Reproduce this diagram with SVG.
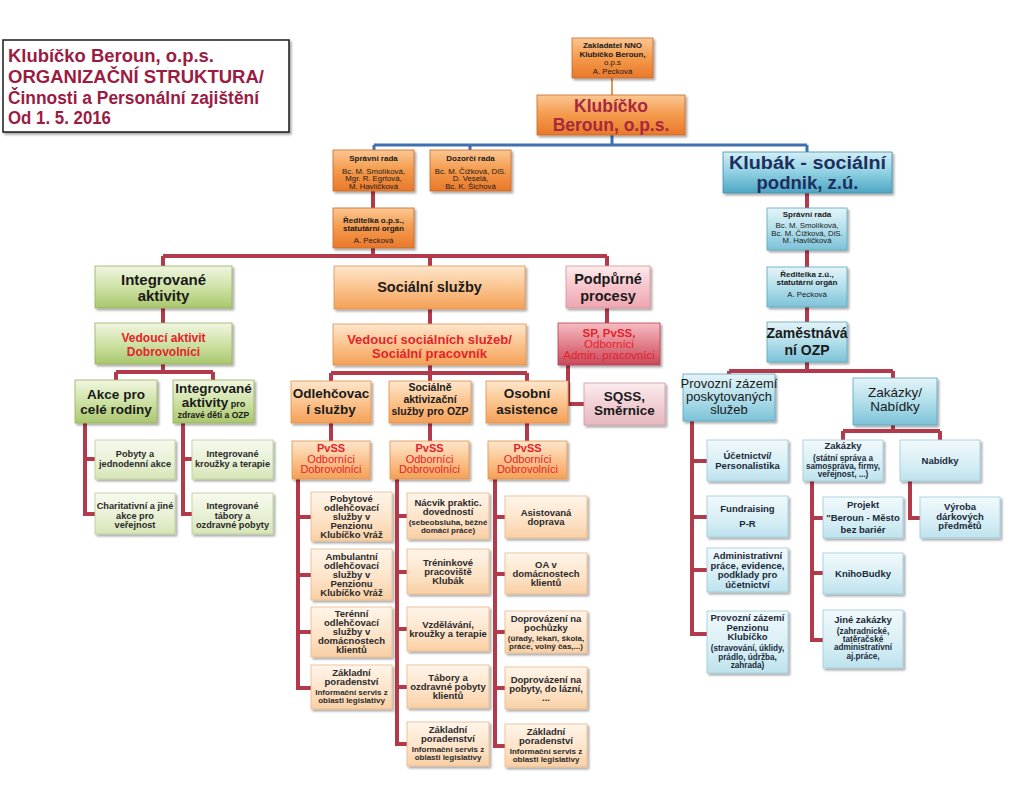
<svg xmlns="http://www.w3.org/2000/svg" width="1024" height="807" viewBox="0 0 1024 807">
<defs>
<filter id="sh" x="-10%" y="-10%" width="130%" height="140%"><feDropShadow dx="1.8" dy="2" stdDeviation="1.2" flood-color="#000" flood-opacity="0.35"/></filter>
<linearGradient id="gO1" x1="0" y1="0" x2="0" y2="1"><stop offset="0" stop-color="#fbc793"/><stop offset="0.5" stop-color="#f49a4c"/><stop offset="1" stop-color="#e9782a"/></linearGradient>
<linearGradient id="gO2" x1="0" y1="0" x2="0" y2="1"><stop offset="0" stop-color="#fee6cc"/><stop offset="0.5" stop-color="#fbc48f"/><stop offset="1" stop-color="#f4a056"/></linearGradient>
<linearGradient id="gO3" x1="0" y1="0" x2="0" y2="1"><stop offset="0" stop-color="#fff5ea"/><stop offset="0.6" stop-color="#fde2c6"/><stop offset="1" stop-color="#f9cfa4"/></linearGradient>
<linearGradient id="gG1" x1="0" y1="0" x2="0" y2="1"><stop offset="0" stop-color="#f0f6e2"/><stop offset="0.5" stop-color="#cfe2a6"/><stop offset="1" stop-color="#a9c76d"/></linearGradient>
<linearGradient id="gG2" x1="0" y1="0" x2="0" y2="1"><stop offset="0" stop-color="#f7faee"/><stop offset="0.6" stop-color="#e6efd2"/><stop offset="1" stop-color="#d6e5b6"/></linearGradient>
<linearGradient id="gP1" x1="0" y1="0" x2="0" y2="1"><stop offset="0" stop-color="#fdebed"/><stop offset="0.5" stop-color="#f6c4cb"/><stop offset="1" stop-color="#eea6b1"/></linearGradient>
<linearGradient id="gR" x1="0" y1="0" x2="0" y2="1"><stop offset="0" stop-color="#f6bcc2"/><stop offset="0.55" stop-color="#e07a86"/><stop offset="1" stop-color="#c8485a"/></linearGradient>
<linearGradient id="gP2" x1="0" y1="0" x2="0" y2="1"><stop offset="0" stop-color="#fbecee"/><stop offset="0.5" stop-color="#f1d0d5"/><stop offset="1" stop-color="#e5b8bf"/></linearGradient>
<linearGradient id="gB0" x1="0" y1="0" x2="0" y2="1"><stop offset="0" stop-color="#d2eef5"/><stop offset="0.5" stop-color="#8fd0e2"/><stop offset="1" stop-color="#4ea6c4"/></linearGradient>
<linearGradient id="gB1" x1="0" y1="0" x2="0" y2="1"><stop offset="0" stop-color="#e4f4f8"/><stop offset="0.5" stop-color="#b3dfeb"/><stop offset="1" stop-color="#7cc2d8"/></linearGradient>
<linearGradient id="gB2" x1="0" y1="0" x2="0" y2="1"><stop offset="0" stop-color="#f1f9fb"/><stop offset="0.6" stop-color="#d6eef5"/><stop offset="1" stop-color="#bde2ed"/></linearGradient>
<style>
text{font-family:"Liberation Sans",Arial,sans-serif;text-anchor:middle;fill:#1a1a1a}
.b{font-weight:bold}
.title{font-size:18px;font-weight:bold;fill:#9b1c42;text-anchor:start}
.red{fill:#e4232b}
.o1{fill:url(#gO1);stroke:#c96a2a;stroke-width:0.8;filter:url(#sh)}
.o2{fill:url(#gO2);stroke:#e0924f;stroke-width:0.8;filter:url(#sh)}
.o3{fill:url(#gO3);stroke:#e8b88a;stroke-width:0.8;filter:url(#sh)}
.g1{fill:url(#gG1);stroke:#98b060;stroke-width:0.8;filter:url(#sh)}
.g2{fill:url(#gG2);stroke:#b9cc94;stroke-width:0.8;filter:url(#sh)}
.p1{fill:url(#gP1);stroke:#d88f9a;stroke-width:0.8;filter:url(#sh)}
.r1{fill:url(#gR);stroke:#b84050;stroke-width:0.8;filter:url(#sh)}
.p2{fill:url(#gP2);stroke:#cf9ba4;stroke-width:0.8;filter:url(#sh)}
.b0{fill:url(#gB0);stroke:#3f8fab;stroke-width:0.8;filter:url(#sh)}
.b1{fill:url(#gB1);stroke:#5aa5bf;stroke-width:0.8;filter:url(#sh)}
.b2{fill:url(#gB2);stroke:#9ccad9;stroke-width:0.8;filter:url(#sh)}
.s8{font-size:7.8px}
.h8{font-size:8px;font-weight:bold}
.lf{font-size:9.5px;font-weight:bold;fill:#2b2b2b}
.sub{font-size:8px;font-weight:bold;fill:#2b2b2b}
.gl{font-size:9.2px;font-weight:bold;fill:#2b2b2b}
.bl{font-size:9.5px;font-weight:bold;fill:#1b2a3a}
.bs{font-size:8.2px;font-weight:bold;fill:#1b2a3a}
.c{stroke:#b23a4a;stroke-width:4;fill:none}
.cb{stroke:#3e70b2;stroke-width:3;fill:none}
.co{stroke:#e8954f;stroke-width:2;fill:none}
</style>
</defs>
<rect width="1024" height="807" fill="#ffffff"/>

<g id="title">
<rect x="3" y="40" width="286" height="92" fill="#fff" stroke="#1a1a1a" stroke-width="1.5" filter="url(#sh)"/>
<text class="title" x="8" y="62" textLength="206" lengthAdjust="spacingAndGlyphs">Klubíčko Beroun, o.p.s.</text>
<text class="title" x="8" y="83" textLength="256" lengthAdjust="spacingAndGlyphs">ORGANIZAČNÍ STRUKTURA/</text>
<text class="title" x="8" y="104" textLength="251" lengthAdjust="spacingAndGlyphs">Činnosti a Personální zajištění</text>
<text class="title" x="8" y="124" textLength="103" lengthAdjust="spacingAndGlyphs">Od 1. 5. 2016</text>
</g>

<g id="connectors">
<path class="co" d="M612,78V95"/>
<path class="cb" d="M612,135V145M374,145H807M374,145V151M470,145V151M807,145V153"/>
<path class="c" d="M373,190V208M373,248V256M163,256H607M163,256V266M430,256V266M607,256V266"/>
<path class="c" d="M163,308V323M163,364V372M116,372H213M116,372V380M213,372V380"/>
<path class="c" d="M85,423V514H95M85,459H95M183,423V514H192M183,459H192"/>
<path class="c" d="M430,309V324M430,365V373M331,373H527M331,373V381M430,373V381M527,373V381"/>
<path class="c" d="M331,423V441M430,423V441M527,423V441"/>
<path class="c" d="M298,479V688H311M298,517H311M298,575H311M298,632H311"/>
<path class="c" d="M397,479V744H407M397,516H407M397,572H407M397,629H407M397,687H407"/>
<path class="c" d="M495,479V746H505M495,517H505M495,574H505M495,632H505M495,688H505"/>
<path class="c" d="M607,308V323M568,365V404H584"/>
<path class="c" d="M807,193V208M807,250V267M807,307V322M807,362V371M729,371H893M729,371V375M893,371V378"/>
<path class="c" d="M692,421V634H707M692,461H707M692,517H707M692,570H707"/>
<path class="c" d="M893,425V431M843,431H940M843,431V440M940,431V440"/>
<path class="c" d="M812,481V640H823M812,518H823M812,573H823M910,481V518H920"/>
</g>

<g id="zakladatel"><rect class="o1" x="572" y="38" width="81" height="40"/>
<text class="h8" x="612.5" y="48">Zakladatel NNO</text><text class="h8" x="612.5" y="57">Klubíčko Beroun,</text><text class="s8" x="612.5" y="64.5">o.p.s</text><text class="s8" x="612.5" y="73.5">A. Pecková</text></g>

<g id="klubicko"><rect class="o1" x="537" y="95" width="148" height="40"/>
<text class="b" x="611" y="111.5" style="font-size:17.5px;fill:#a8293d">Klubíčko</text><text class="b" x="611" y="131.2" style="font-size:17.5px;fill:#a8293d">Beroun, o.p.s.</text></g>

<g id="spravni-rada"><rect class="o1" x="333" y="150" width="81" height="41"/>
<text class="h8" x="373.5" y="161">Správní rada</text><text class="s8" x="373.5" y="174">Bc. M. Smolíková,</text><text class="s8" x="373.5" y="181">Mgr. R. Egrtová,</text><text class="s8" x="373.5" y="188.5">M. Havlíčková</text></g>

<g id="dozorci-rada"><rect class="o1" x="430" y="150" width="81" height="41"/>
<text class="h8" x="470.5" y="161">Dozorčí rada</text><text class="s8" x="470.5" y="174">Bc. M. Čížková, DiS.</text><text class="s8" x="470.5" y="181">D. Veselá,</text><text class="s8" x="470.5" y="188.5">Bc. K. Šichová</text></g>

<g id="reditelka"><rect class="o1" x="333" y="208" width="81" height="40"/>
<text class="h8" x="373.5" y="223">Ředitelka o.p.s.,</text><text class="h8" x="373.5" y="231">statutární orgán</text><text class="s8" x="373.5" y="243">A. Pecková</text></g>

<g id="klubak"><rect class="b0" x="723" y="152" width="169" height="41"/>
<text class="b" x="807.5" y="168.5" textLength="157" lengthAdjust="spacingAndGlyphs" style="font-size:18px;fill:#1d2f5e">Klubák - sociální</text><text class="b" x="807.5" y="189" textLength="102" lengthAdjust="spacingAndGlyphs" style="font-size:18px;fill:#1d2f5e">podnik, z.ú.</text></g>

<g id="spravni-rada-zu"><rect class="b1" x="767" y="208" width="80" height="42"/>
<text class="h8" x="807" y="217">Správní rada</text><text class="s8" x="807" y="228">Bc. M. Smolíková,</text><text class="s8" x="807" y="235.5">Bc. M. Čížková, DiS.</text><text class="s8" x="807" y="243">M. Havlíčková</text></g>

<g id="reditelka-zu"><rect class="b1" x="767" y="267" width="80" height="40"/>
<text class="h8" x="807" y="277">Ředitelka z.ú.,</text><text class="h8" x="807" y="285">statutární orgán</text><text class="s8" x="807" y="297">A. Pecková</text></g>

<g id="zamestnava"><rect class="b1" x="767" y="322" width="80" height="40"/>
<text class="b" x="807" y="338" style="font-size:14px">Zaměstnává</text><text class="b" x="807" y="355" style="font-size:14px">ní OZP</text></g>

<g id="integrovane-aktivity"><rect class="g1" x="95" y="266" width="137" height="42"/>
<text class="b" x="163.5" y="285" style="font-size:15px">Integrované</text><text class="b" x="163.5" y="301" style="font-size:15px">aktivity</text></g>

<g id="socialni-sluzby"><rect class="o2" x="334" y="266" width="191" height="43"/>
<text class="b" x="429.5" y="292" style="font-size:14.5px">Sociální služby</text></g>

<g id="podpurne-procesy"><rect class="p1" x="566" y="266" width="84" height="42"/>
<text class="b" x="608" y="284" style="font-size:14.5px">Podpůrné</text><text class="b" x="608" y="301" style="font-size:14.5px">procesy</text></g>

<g id="vedouci-aktivit"><rect class="g1" x="95" y="323" width="137" height="41"/>
<text class="b red" x="163.5" y="342" style="font-size:12px">Vedoucí aktivit</text><text class="b red" x="163.5" y="356" style="font-size:12px">Dobrovolníci</text></g>

<g id="vedouci-soc"><rect class="o2" x="333" y="324" width="193" height="41"/>
<text class="b red" x="429.5" y="343.5" style="font-size:13px">Vedoucí sociálních služeb/</text><text class="b red" x="429.5" y="357.5" style="font-size:13px">Sociální pracovník</text></g>

<g id="sp-pvss"><rect class="r1" x="558" y="323" width="102" height="42"/>
<text class="b red" x="609" y="337" style="font-size:11.5px">SP, PvSS,</text><text class="red" x="609" y="348" style="font-size:11.5px">Odborníci</text><text class="red" x="609" y="359" style="font-size:11.5px">Admin. pracovníci</text></g>

<g id="sqss"><rect class="p2" x="584" y="383" width="81" height="42"/>
<text class="b" x="624.5" y="401" style="font-size:13.5px">SQSS,</text><text class="b" x="624.5" y="415" style="font-size:13.5px">Směrnice</text></g>

<g id="akce-rodiny"><rect class="g1" x="75" y="380" width="82" height="43"/>
<text class="b" x="116" y="399" style="font-size:13.5px">Akce pro</text><text class="b" x="116" y="414" style="font-size:13.5px">celé rodiny</text></g>

<g id="integrovane-aktivity-pro"><rect class="g1" x="173" y="380" width="81" height="43"/>
<text class="b" x="213.5" y="393" style="font-size:13.5px">Integrované</text><text class="b" x="213.5" y="407" style="font-size:13.5px">aktivity<tspan style="font-size:9px"> pro</tspan></text><text class="b" x="213.5" y="418" style="font-size:8.5px">zdravé děti a OZP</text></g>

<g id="pobyty-akce"><rect class="g2" x="95" y="440" width="80" height="39"/>
<text class="gl" x="135" y="457">Pobyty a</text><text class="gl" x="135" y="466.5">jednodenní akce</text></g>
<g id="charitativni"><rect class="g2" x="95" y="493" width="80" height="41"/>
<text class="gl" x="135" y="509">Charitativní a jiné</text><text class="gl" x="135" y="518.5">akce pro</text><text class="gl" x="135" y="528">veřejnost</text></g>
<g id="int-krouzky"><rect class="g2" x="192" y="440" width="81" height="39"/>
<text class="gl" x="232.5" y="457">Integrované</text><text class="gl" x="232.5" y="466.5">kroužky a terapie</text></g>
<g id="int-tabory"><rect class="g2" x="192" y="493" width="81" height="41"/>
<text class="gl" x="232.5" y="509">Integrované</text><text class="gl" x="232.5" y="518.5">tábory a</text><text class="gl" x="232.5" y="528">ozdravné pobyty</text></g>

<g id="odlehcovaci"><rect class="o2" x="291" y="381" width="80" height="42"/>
<text class="b" x="331" y="398" style="font-size:13.5px">Odlehčovac</text><text class="b" x="331" y="414" style="font-size:13.5px">í služby</text></g>
<g id="socialne-aktivizacni"><rect class="o2" x="389" y="381" width="82" height="42"/>
<text class="b" x="430" y="391" style="font-size:10.5px">Sociálně</text><text class="b" x="430" y="403" style="font-size:10.5px">aktivizační</text><text class="b" x="430" y="415" style="font-size:10.5px">služby pro OZP</text></g>
<g id="osobni-asistence"><rect class="o2" x="486" y="381" width="82" height="42"/>
<text class="b" x="527" y="398" style="font-size:13.5px">Osobní</text><text class="b" x="527" y="414" style="font-size:13.5px">asistence</text></g>

<g id="pvss-1"><rect class="o2" x="292" y="441" width="78" height="38"/>
<text class="b red" x="331" y="452" style="font-size:11px">PvSS</text><text class="red" x="331" y="462.5" style="font-size:11px">Odborníci</text><text class="red" x="331" y="473" style="font-size:11px">Dobrovolníci</text></g>
<g id="pvss-2"><rect class="o2" x="390" y="441" width="79" height="38"/>
<text class="b red" x="429.5" y="452" style="font-size:11px">PvSS</text><text class="red" x="429.5" y="462.5" style="font-size:11px">Odborníci</text><text class="red" x="429.5" y="473" style="font-size:11px">Dobrovolníci</text></g>
<g id="pvss-3"><rect class="o2" x="488" y="441" width="79" height="38"/>
<text class="b red" x="527.5" y="452" style="font-size:11px">PvSS</text><text class="red" x="527.5" y="462.5" style="font-size:11px">Odborníci</text><text class="red" x="527.5" y="473" style="font-size:11px">Dobrovolníci</text></g>

<g id="pobytove-odl"><rect class="o3" x="311" y="492" width="81" height="49"/>
<text class="lf" x="351.5" y="502">Pobytové</text><text class="lf" x="351.5" y="511">odlehčovací</text><text class="lf" x="351.5" y="520">služby v</text><text class="lf" x="351.5" y="529">Penzionu</text><text class="lf" x="351.5" y="538">Klubíčko Vráž</text></g>
<g id="ambulantni-odl"><rect class="o3" x="311" y="549" width="81" height="51"/>
<text class="lf" x="351.5" y="560">Ambulantní</text><text class="lf" x="351.5" y="569">odlehčovací</text><text class="lf" x="351.5" y="578">služby v</text><text class="lf" x="351.5" y="587">Penzionu</text><text class="lf" x="351.5" y="596">Klubíčko Vráž</text></g>
<g id="terenni-odl"><rect class="o3" x="311" y="607" width="81" height="50"/>
<text class="lf" x="351.5" y="617">Terénní</text><text class="lf" x="351.5" y="626">odlehčovací</text><text class="lf" x="351.5" y="635">služby v</text><text class="lf" x="351.5" y="644">domácnostech</text><text class="lf" x="351.5" y="653">klientů</text></g>
<g id="zakladni-por-1"><rect class="o3" x="311" y="665" width="81" height="44"/>
<text class="lf" x="351.5" y="676">Základní</text><text class="lf" x="351.5" y="685">poradenství</text><text class="sub" x="351.5" y="695">Informační servis z</text><text class="sub" x="351.5" y="703">oblasti legislativy</text></g>

<g id="nacvik"><rect class="o3" x="407" y="493" width="82" height="46"/>
<text class="lf" x="448" y="506">Nácvik praktic.</text><text class="lf" x="448" y="515">dovedností</text><text class="sub" x="448" y="524.5">(sebeobsluha, běžné</text><text class="sub" x="448" y="532.5">domácí práce)</text></g>
<g id="treninkove"><rect class="o3" x="407" y="549" width="82" height="45"/>
<text class="lf" x="448" y="566">Tréninkové</text><text class="lf" x="448" y="575">pracoviště</text><text class="lf" x="448" y="584">Klubák</text></g>
<g id="vzdelavani"><rect class="o3" x="407" y="607" width="82" height="44"/>
<text class="lf" x="448" y="628">Vzdělávání,</text><text class="lf" x="448" y="637">kroužky a terapie</text></g>
<g id="tabory"><rect class="o3" x="407" y="665" width="82" height="43"/>
<text class="lf" x="448" y="681">Tábory a</text><text class="lf" x="448" y="690">ozdravné pobyty</text><text class="lf" x="448" y="699">klientů</text></g>
<g id="zakladni-por-2"><rect class="o3" x="407" y="722" width="82" height="44"/>
<text class="lf" x="448" y="733">Základní</text><text class="lf" x="448" y="742">poradenství</text><text class="sub" x="448" y="752">Informační servis z</text><text class="sub" x="448" y="760">oblasti legislativy</text></g>

<g id="asistovana"><rect class="o3" x="505" y="496" width="82" height="42"/>
<text class="lf" x="546" y="516">Asistovaná</text><text class="lf" x="546" y="525">doprava</text></g>
<g id="oa"><rect class="o3" x="505" y="553" width="82" height="41"/>
<text class="lf" x="546" y="568">OA v</text><text class="lf" x="546" y="577">domácnostech</text><text class="lf" x="546" y="586">klientů</text></g>
<g id="doprovazeni-pochuzky"><rect class="o3" x="505" y="611" width="82" height="42"/>
<text class="lf" x="546" y="622">Doprovázení na</text><text class="lf" x="546" y="631">pochůzky</text><text class="sub" x="546" y="640.5">(úřady, lékaři, škola,</text><text class="sub" x="546" y="648.5">práce, volný čas,...)</text></g>
<g id="doprovazeni-pobyty"><rect class="o3" x="505" y="667" width="82" height="42"/>
<text class="lf" x="546" y="682.5">Doprovázení na</text><text class="lf" x="546" y="691.5">pobyty, do lázní,</text><text class="lf" x="546" y="700.5">...</text></g>
<g id="zakladni-por-3"><rect class="o3" x="505" y="724" width="82" height="43"/>
<text class="lf" x="546" y="735">Základní</text><text class="lf" x="546" y="744">poradenství</text><text class="sub" x="546" y="754">Informační servis z</text><text class="sub" x="546" y="762">oblasti legislativy</text></g>

<g id="provozni-zazemi"><rect class="b1" x="683" y="374" width="92" height="47"/>
<text x="729" y="388" style="font-size:13px">Provozní zázemí</text><text x="729" y="401" style="font-size:13px">poskytovaných</text><text x="729" y="414" style="font-size:13px">služeb</text></g>
<g id="zakazky-nabidky"><rect class="b1" x="853" y="378" width="84" height="47"/>
<text x="895" y="397" style="font-size:13.5px">Zakázky/</text><text x="895" y="411" style="font-size:13.5px">Nabídky</text></g>

<g id="ucetnictvi"><rect class="b2" x="707" y="440" width="81" height="41"/>
<text class="bl" x="747.5" y="459">Účetnictví/</text><text class="bl" x="747.5" y="469">Personalistika</text></g>
<g id="fundraising"><rect class="b2" x="707" y="496" width="81" height="41"/>
<text class="bl" x="747.5" y="512">Fundraising</text><text class="bl" x="747.5" y="527">P-R</text></g>
<g id="administrativni"><rect class="b2" x="707" y="548" width="81" height="44"/>
<text class="bl" x="747.5" y="559">Administrativní</text><text class="bl" x="747.5" y="568.5">práce, evidence,</text><text class="bl" x="747.5" y="578">podklady pro</text><text class="bl" x="747.5" y="587.5">účetnictví</text></g>
<g id="provozni-penzion"><rect class="b2" x="707" y="611" width="81" height="62"/>
<text class="bl" x="747.5" y="621">Provozní zázemí</text><text class="bl" x="747.5" y="630.5">Penzionu</text><text class="bl" x="747.5" y="640">Klubíčko</text><text class="bs" x="747.5" y="651">(stravování, úklidy,</text><text class="bs" x="747.5" y="659.5">prádlo, údržba,</text><text class="bs" x="747.5" y="668">zahrada)</text></g>

<g id="zakazky"><rect class="b2" x="803" y="440" width="80" height="41"/>
<text class="bl" x="843" y="449">Zakázky</text><text class="bs" x="843" y="461">(státní správa a</text><text class="bs" x="843" y="469">samospráva, firmy,</text><text class="bs" x="843" y="477">veřejnost, ...)</text></g>
<g id="nabidky"><rect class="b2" x="900" y="440" width="80" height="41"/>
<text class="bl" x="940" y="464">Nabídky</text></g>
<g id="projekt"><rect class="b2" x="823" y="497" width="80" height="41"/>
<text class="bl" x="863" y="508">Projekt</text><text class="bl" x="863" y="520.5">"Beroun - Město</text><text class="bl" x="863" y="533">bez bariér</text></g>
<g id="knihobudky"><rect class="b2" x="823" y="553" width="80" height="41"/>
<text class="bl" x="863" y="577">KnihoBudky</text></g>
<g id="jine-zakazky"><rect class="b2" x="823" y="610" width="80" height="58"/>
<text class="bl" x="863" y="623">Jiné zakázky</text><text class="bs" x="863" y="634">(zahradnické,</text><text class="bs" x="863" y="642">tatěračské</text><text class="bs" x="863" y="650">administrativní</text><text class="bs" x="863" y="659">aj.práce,</text></g>
<g id="vyroba"><rect class="b2" x="920" y="497" width="80" height="41"/>
<text class="bl" x="960" y="510">Výroba</text><text class="bl" x="960" y="519.5">dárkových</text><text class="bl" x="960" y="529">předmětů</text></g>
</svg>
